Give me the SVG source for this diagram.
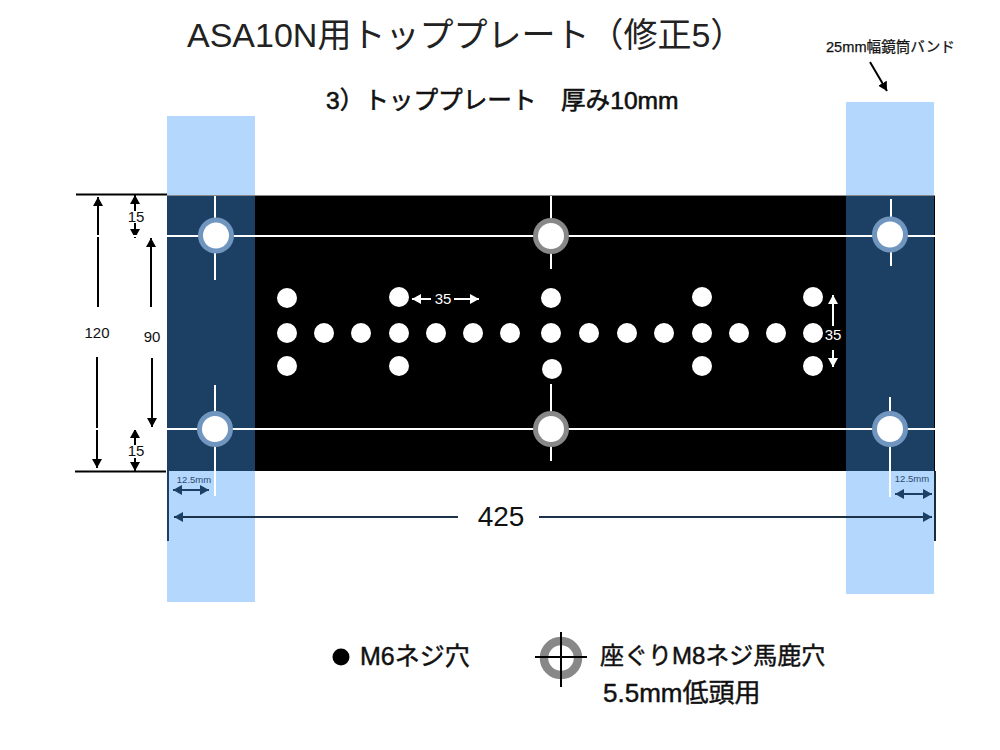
<svg xmlns="http://www.w3.org/2000/svg" width="1000" height="750" viewBox="0 0 1000 750">
<style>
text{font-family:"Liberation Sans","Noto Sans CJK JP",sans-serif;fill:#111}
.md{stroke:#111;stroke-width:.45px}
.wl{stroke:#fff;stroke-width:2;fill:none}
.d{stroke:#000;stroke-width:2;fill:none}
.n{stroke:#1c4064;stroke-width:2;fill:none}
.w{stroke:#fff;stroke-width:2;fill:none}
.hole{fill:#fff}
.rb{fill:#7096bf}
.rg{fill:#888}
.dim{font-size:15px;text-anchor:middle}
</style>
<defs>
<marker id="ak" markerUnits="userSpaceOnUse" markerWidth="10" markerHeight="10" refX="9" refY="5" orient="auto-start-reverse"><path d="M0 0L9 5L0 10Z" fill="#000"/></marker>
<marker id="an" markerUnits="userSpaceOnUse" markerWidth="10" markerHeight="10" refX="9" refY="5" orient="auto-start-reverse"><path d="M0 0L9 5L0 10Z" fill="#1c4064"/></marker>
<marker id="aw" markerUnits="userSpaceOnUse" markerWidth="10" markerHeight="10" refX="9" refY="5" orient="auto-start-reverse"><path d="M0 0L9 5L0 10Z" fill="#fff"/></marker>
</defs>
<text x="187" y="47" font-size="34" style="fill:#222">ASA10N用トッププレート（修正5）</text>
<text x="826" y="52" font-size="14.600" class="md" style="stroke-width:.25px">25mm幅鏡筒バンド</text>
<text x="326" y="109" font-size="24.600" class="md" style="stroke-width:.6px">3）トッププレート　厚み10mm</text>
<g id="band-left"><rect x="167" y="116" width="88" height="486" fill="#b3d7fd"/></g>
<g id="band-right"><rect x="846" y="102" width="88" height="492" fill="#b3d7fd"/></g>
<g id="plate">
<rect x="167" y="195" width="768" height="276" fill="#888"/>
<rect x="167" y="196" width="768" height="275" fill="#000"/>
<rect x="167" y="196" width="88" height="275" fill="#1c4064"/>
<rect x="846" y="196" width="88" height="275" fill="#1c4064"/>
</g>
<g id="connectors">
<path class="d" d="M76 194.500H167M75 471.500H166"/>
<path class="d" marker-end="url(#ak)" d="M98 307V197"/>
<path class="d" marker-end="url(#ak)" d="M97 357V468"/>
<path class="d" marker-end="url(#ak)" d="M151 307V238"/>
<path class="d" marker-end="url(#ak)" d="M152 358V427"/>
<path class="d" marker-end="url(#ak)" d="M135 211V195"/>
<path class="d" marker-end="url(#ak)" d="M135 223V238"/>
<path class="d" marker-end="url(#ak)" d="M135 445V429"/>
<path class="d" marker-end="url(#ak)" d="M135 458V471"/>
<path class="d" marker-end="url(#ak)" d="M870 62L887 91"/>
<path class="wl" d="M76 236H167M76 429H167"/>
<path class="wl" d="M167 236H935M167 429H935"/>
<path class="wl" d="M215 196V280M215 385V496M551 196V269M551 384V461M891 199V266M890 397V497"/>
<path class="w" marker-end="url(#aw)" d="M431 299H412"/>
<path class="w" marker-end="url(#aw)" d="M454 299H479"/>
<path class="w" marker-end="url(#aw)" d="M833 326V295"/>
<path class="w" marker-end="url(#aw)" d="M833 350V367"/>
<path class="n" marker-start="url(#an)" marker-end="url(#an)" d="M173 490H209"/>
<path class="n" marker-start="url(#an)" marker-end="url(#an)" d="M895 494H932"/>
<path class="n" d="M168 471V541"/>
<path class="d" d="M935 471V541" style="stroke:#1c2c3c"/>
<path class="n" style="stroke:#1c3248" marker-start="url(#an)" d="M174 517H458"/>
<path class="n" style="stroke:#1c3248" marker-end="url(#an)" d="M539 517H932"/>
</g>
<g id="holes-large">
<circle class="rb" cx="216" cy="235.500" r="18"/><circle class="hole" cx="216" cy="235.500" r="13"/>
<circle class="rg" cx="551" cy="236" r="18"/><circle class="hole" cx="551" cy="236" r="13"/>
<circle class="rb" cx="890" cy="234.500" r="18"/><circle class="hole" cx="890" cy="234.500" r="13"/>
<circle class="rb" cx="215" cy="429" r="18"/><circle class="hole" cx="215" cy="429" r="13"/>
<circle class="rg" cx="551" cy="429" r="18"/><circle class="hole" cx="551" cy="429" r="13"/>
<circle class="rb" cx="890" cy="429" r="18"/><circle class="hole" cx="890" cy="429" r="13"/>
</g>
<g id="holes-small" class="hole">
<circle cx="287" cy="298" r="10"/><circle cx="399" cy="297" r="10"/><circle cx="551" cy="298" r="10"/><circle cx="702" cy="297" r="10"/><circle cx="813" cy="297" r="10"/>
<circle cx="287" cy="333" r="10"/><circle cx="324" cy="333" r="10"/><circle cx="361" cy="333" r="10"/><circle cx="399" cy="333" r="10"/><circle cx="436" cy="333" r="10"/><circle cx="473" cy="333" r="10"/><circle cx="510" cy="333" r="10"/><circle cx="551" cy="333" r="10"/><circle cx="589" cy="333" r="10"/><circle cx="627" cy="333" r="10"/><circle cx="664" cy="333" r="10"/><circle cx="702" cy="333" r="10"/><circle cx="739" cy="333" r="10"/><circle cx="776" cy="333" r="10"/><circle cx="813" cy="333" r="10"/>
<circle cx="287" cy="366" r="10"/><circle cx="399" cy="366" r="10"/><circle cx="552" cy="369" r="10"/><circle cx="702" cy="366" r="10"/><circle cx="813" cy="366" r="10"/>
</g>
<g id="labels">
<text x="136" y="222" class="dim">15</text>
<text x="136" y="456" class="dim">15</text>
<text x="97" y="338" class="dim">120</text>
<text x="152" y="342" class="dim">90</text>
<text x="443" y="304" class="dim" style="fill:#fff">35</text>
<text x="833" y="340" class="dim" style="fill:#fff">35</text>
<text x="194" y="483" font-size="9.500" text-anchor="middle" style="fill:#2c4c70">12.5mm</text>
<text x="912" y="482" font-size="9.500" text-anchor="middle" style="fill:#2c4c70">12.5mm</text>
<text x="501" y="526" font-size="28" text-anchor="middle">425</text>
</g>
<g id="legend">
<circle cx="341" cy="657" r="8.500" fill="#000"/>
<text x="360" y="665" font-size="25" class="md">M6ネジ穴</text>
<circle cx="561" cy="658" r="17" fill="none" stroke="#888" stroke-width="8.500"/>
<path d="M535 657H587M561 632V687" stroke="#000" stroke-width="2" fill="none"/>
<text x="600" y="664" font-size="24" class="md">座ぐりM8ネジ馬鹿穴</text>
<text x="603" y="702" font-size="26" class="md">5.5mm低頭用</text>
</g>
</svg>
